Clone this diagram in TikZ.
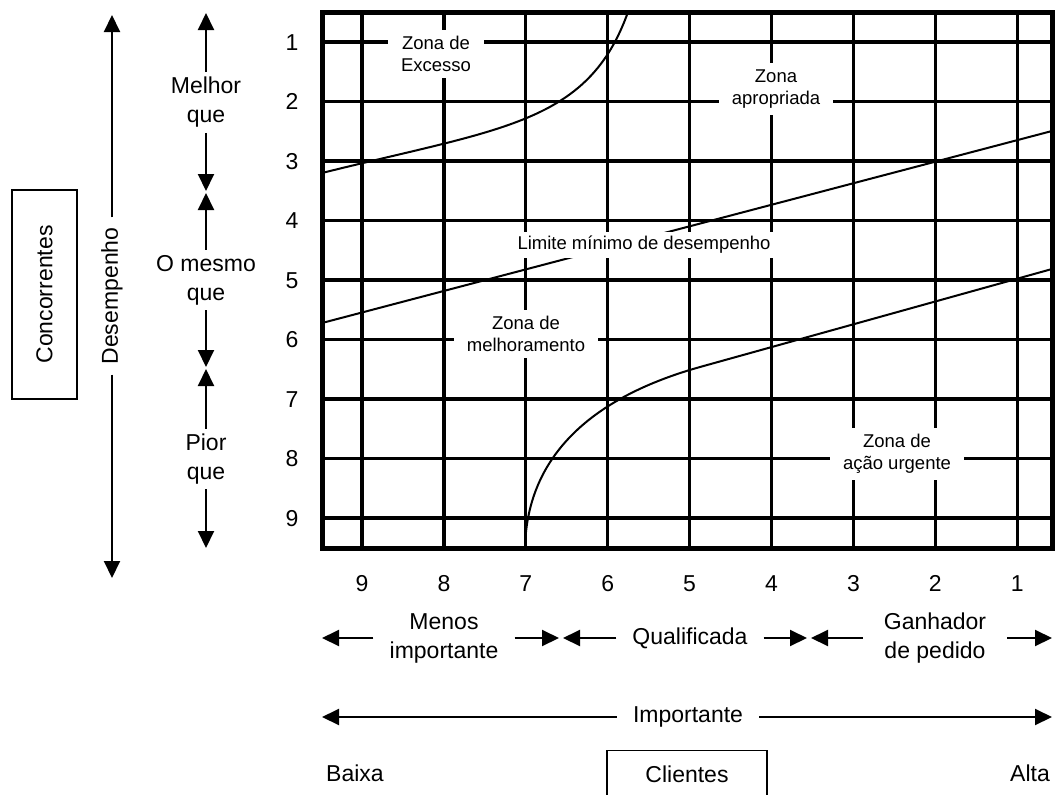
\documentclass[tikz,border=0pt]{standalone}
\usepackage{fontspec}
\setmainfont{Liberation Sans}
\usetikzlibrary{arrows.meta}
\tikzset{gridline/.style={line width=3.3pt}}
\tikzset{frameline/.style={line width=5pt}}
\tikzset{curveline/.style={line width=2pt}}
\tikzset{arrowline/.style={line width=2pt,-{Triangle[length=17pt,width=16pt]}}}
\tikzset{lbl/.style={font=\fontsize{23}{29}\selectfont, align=center, inner sep=0pt}}
\tikzset{num/.style={lbl, text height=16.5pt, text depth=0pt}}
\tikzset{hseg/.style={lbl, inner xsep=16pt, inner ysep=4pt}}
\tikzset{vseg/.style={lbl, inner xsep=4pt, inner ysep=5pt}}
\tikzset{zone/.style={fill=white, font=\fontsize{18.5}{22.5}\selectfont, align=center,
      inner xsep=13pt, inner ysep=6pt}}
\tikzset{boxed/.style={draw, line width=1.3pt, font=\fontsize{23}{29}\selectfont}}

\begin{document}
\begin{tikzpicture}[x=1pt,y=-1pt]
    \useasboundingbox (0,0) rectangle (1055,795);
    \clip (0,0) rectangle (1055,795);

    % grid
    \foreach \k in {0,...,8} {
      \draw[gridline] ({362+81.9*\k},12) -- ({362+81.9*\k},548);
      \draw[gridline] (322,{42+59.5*\k}) -- (1052,{42+59.5*\k});
    }

    % zones
    \draw[curveline] (322,173) .. controls (502,128) and (588,124) .. (628,12);
    \draw[curveline] (322,323) -- (1052,131);
    \draw[curveline] (525,548) .. controls (527,450) and (600,395) .. (700,367) -- (1052,269);

    \node[zone] (excesso) at (436,54) {Zona de\\Excesso};
    \node[zone] (apropriada) at (776,89) {Zona\\apropriada};
    \node[zone, inner xsep=3pt, inner ysep=4pt] (limite) at (644,245) {Limite mínimo de desempenho};
    \node[zone] (melhoramento) at (526,334) {Zona de\\melhoramento};
    \node[zone] (urgente) at (897,454) {Zona de\\ação urgente};

    \draw[frameline] (322,12) rectangle (1052,548);

    % scales
    \foreach \r in {1,...,9}
      \node[num] (row\r) at (292,{42+59.5*(\r-1)}) {\r};
    \foreach \c [count=\k from 0] in {9,8,...,1}
      \node[num] (col\c) at ({362+81.9*\k},583) {\c};

    % competitors side
    \node[boxed, rotate=90, minimum width=209pt, minimum height=65pt] (concorrentes)
      at (44.5,294.5) {Concorrentes};
    \node[lbl, rotate=90, inner xsep=10pt] (desempenho) at (112,296) {Desempenho};
    \coordinate (dTop) at (112,15);
    \coordinate (dBot) at (112,578);
    \draw[arrowline] (desempenho) -- (dTop);
    \draw[arrowline] (desempenho) -- (dBot);

    \node[vseg] (melhor) at (206,102.5) {Melhor\\que};
    \node[vseg] (mesmo) at (206,280) {O mesmo\\que};
    \node[vseg] (pior) at (206,459) {Pior\\que};
    \coordinate (melhorT) at (206,13);
    \coordinate (melhorB) at (206,191);
    \coordinate (mesmoT) at (206,193);
    \coordinate (mesmoB) at (206,367);
    \coordinate (piorT) at (206,369);
    \coordinate (piorB) at (206,548);
    \draw[arrowline] (melhor) -- (melhorT);
    \draw[arrowline] (melhor) -- (melhorB);
    \draw[arrowline] (mesmo) -- (mesmoT);
    \draw[arrowline] (mesmo) -- (mesmoB);
    \draw[arrowline] (pior) -- (piorT);
    \draw[arrowline] (pior) -- (piorB);

    % customers side
    \node[hseg] (menos) at (444,638) {Menos\\importante};
    \node[hseg] (qualificada) at (690,638) {Qualificada};
    \node[hseg, inner xsep=21pt] (ganhador) at (935,638) {Ganhador\\de pedido};
    \coordinate (menosL) at (322,638);
    \coordinate (menosR) at (559,638);
    \coordinate (qualL) at (563,638);
    \coordinate (qualR) at (807,638);
    \coordinate (ganhL) at (811,638);
    \coordinate (ganhR) at (1052,638);
    \draw[arrowline] (menos) -- (menosL);
    \draw[arrowline] (menos) -- (menosR);
    \draw[arrowline] (qualificada) -- (qualL);
    \draw[arrowline] (qualificada) -- (qualR);
    \draw[arrowline] (ganhador) -- (ganhL);
    \draw[arrowline] (ganhador) -- (ganhR);

    \node[hseg] (importante) at (688,717) {Importante};
    \coordinate (impL) at (322,717);
    \coordinate (impR) at (1052,717);
    \draw[arrowline] (importante) -- (impL);
    \draw[arrowline] (importante) -- (impR);

    \node[lbl] (baixa) at (355,773) {Baixa};
    \node[lbl] (alta) at (1030,773) {Alta};
    \node[boxed, anchor=north, minimum width=160pt, inner ysep=15pt, text depth=15pt] (clientes)
      at (687,750) {Clientes};
\end{tikzpicture}
\end{document}
